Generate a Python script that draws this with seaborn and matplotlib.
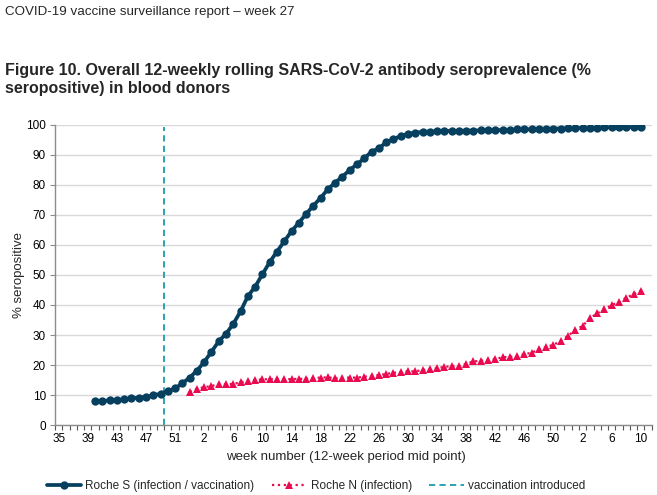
import numpy as np
import pandas as pd
import matplotlib
matplotlib.use("Agg")
import matplotlib.pyplot as plt
from matplotlib.lines import Line2D
import seaborn as sns

nan = np.nan

# Week number of each 12-week period mid point (week 35 2020 .. week 11 2022)
weeks = [35, 36, 37, 38, 39, 40, 41, 42, 43, 44, 45, 46, 47, 48, 49, 50, 51, 52, 53,
         1, 2, 3, 4, 5, 6, 7, 8, 9, 10, 11, 12, 13, 14, 15, 16, 17, 18, 19, 20,
         21, 22, 23, 24, 25, 26, 27, 28, 29, 30, 31, 32, 33, 34, 35, 36, 37, 38,
         39, 40, 41, 42, 43, 44, 45, 46, 47, 48, 49, 50, 51, 52,
         1, 2, 3, 4, 5, 6, 7, 8, 9, 10, 11]

roche_s = [nan, nan, nan, nan, nan,
           8.0, 8.0, 8.2, 8.3, 8.6, 8.9, 9.1, 9.4, 9.9, 10.4, 11.3, 12.2, 13.9, 15.8,
           18.1, 21.0, 24.4, 27.9, 30.4, 33.7, 37.9, 42.9, 46.1, 50.2, 54.3, 57.8,
           61.2, 64.6, 67.4, 70.3, 73.1, 75.7, 78.6, 80.8, 82.8, 85.0, 86.9, 88.9,
           91.1, 92.2, 94.2, 95.3, 96.3, 97.0, 97.4, 97.7, 97.8, 97.9, 98.0, 98.0,
           98.0, 98.1, 98.1, 98.2, 98.2, 98.3, 98.3, 98.4, 98.5, 98.5, 98.6, 98.7,
           98.7, 98.8, 98.8, 98.9, 99.0, 99.0, 99.1, 99.1, 99.2, 99.2, 99.3, 99.3,
           99.3, 99.4, nan]

roche_n = [nan, nan, nan, nan, nan, nan, nan, nan, nan, nan, nan, nan, nan, nan,
           nan, nan, nan, nan,
           11.1, 12.1, 12.6, 13.0, 13.6, 13.6, 13.7, 14.2, 14.7, 15.0, 15.2, 15.3,
           15.3, 15.3, 15.3, 15.4, 15.4, 15.7, 15.8, 15.9, 15.6, 15.8, 15.8, 15.8,
           16.1, 16.4, 16.6, 17.0, 17.4, 17.6, 17.9, 17.9, 18.3, 18.7, 18.9, 19.4,
           19.6, 19.8, 20.4, 21.2, 21.4, 21.7, 22.0, 22.6, 22.7, 23.0, 23.6, 24.1,
           25.2, 26.1, 26.7, 28.1, 29.7, 31.7, 33.0, 35.6, 37.2, 38.6, 40.0, 40.9,
           42.4, 43.6, 44.8, nan]

vaccination_week = 50  # week 50 of 2020
y_ticks = [0, 10, 20, 30, 40, 50, 60, 70, 80, 90, 100]

header = "COVID-19 vaccine surveillance report \u2013 week 27"
title = ("Figure 10. Overall 12-weekly rolling SARS-CoV-2 antibody seroprevalence (%\n"
         "seropositive) in blood donors")
label_s = "Roche S (infection / vaccination)"
label_n = "Roche N (infection)"
label_v = "vaccination introduced"

BLUE = "#073f5f"
RED = "#ea0a50"
TEAL = "#2aa3b1"

sns.set_theme(style="white")
plt.rcParams["font.family"] = ["Liberation Sans", "DejaVu Sans"]

df = pd.DataFrame({"period": np.arange(len(weeks)), "week": weeks,
                   "S": roche_s, "N": roche_n})

fig = plt.figure(figsize=(6.57, 4.95), dpi=100)
ax = fig.add_axes([0.0837, 0.1414, 0.9083, 0.6061])

sns.lineplot(data=df.dropna(subset=["S"]), x="period", y="S", ax=ax, color=BLUE,
             linewidth=2.7, marker="o", markersize=6.0, markeredgewidth=0,
             zorder=4)
sns.lineplot(data=df.dropna(subset=["N"]), x="period", y="N", ax=ax, color=RED,
             linewidth=1.6, linestyle=":", marker="^", markersize=5.6,
             markeredgewidth=0, zorder=3)

vpos = weeks.index(vaccination_week) - 0.5
ax.plot([vpos, vpos], [0, 99.2], color=TEAL, linewidth=1.4, dashes=(3.2, 2.2),
        zorder=2)

ax.set_xlim(-0.5, len(weeks) - 0.5)
ax.set_ylim(0, 100)
ax.set_yticks(y_ticks)
ax.set_yticklabels([str(v) for v in y_ticks])
major = list(range(0, len(weeks), 4))
ax.set_xticks(major)
ax.set_xticklabels([str(weeks[i]) for i in major])
ax.set_xticks(np.arange(-0.5, len(weeks), 1.0), minor=True)

ax.grid(axis="y", color="#d9d9d9", linewidth=1.0, zorder=0)
ax.grid(axis="x", visible=False)
for s in ["top", "right"]:
    ax.spines[s].set_visible(False)
for s in ["left", "bottom"]:
    ax.spines[s].set_color("#8c8c8c")
    ax.spines[s].set_linewidth(1.0)

ax.tick_params(axis="x", which="major", length=0, pad=6, labelsize=8.5, colors="black")
ax.tick_params(axis="x", which="minor", length=3.5, width=0.8, color="#555555",
               direction="out", bottom=True)
ax.tick_params(axis="y", which="major", length=3.5, width=0.8, color="#8c8c8c",
               direction="out", left=True, labelsize=8.5, pad=3, labelcolor="black")

ax.set_xlabel("week number (12-week period mid point)", fontsize=9.5, labelpad=6)
ax.xaxis.set_label_coords(0.487, -0.085)
ax.set_ylabel("% seropositive", fontsize=9.5, labelpad=1)

fig.text(5 / 657, 1 - 12 / 495, header, fontsize=9.6, va="center", ha="left")
fig.text(5 / 657, 1 - 79 / 495, title, fontsize=11.5, fontweight="bold",
         va="center", ha="left", linespacing=1.25)

handles = [
    Line2D([0], [0], color=BLUE, linewidth=2.7, marker="o", markersize=6.0,
           markeredgewidth=0),
    Line2D([0], [0], color=RED, linewidth=1.6, linestyle=":", marker="^",
           markersize=5.6, markeredgewidth=0),
    Line2D([0], [0], color=TEAL, linewidth=1.4, dashes=(3.2, 2.2)),
]
fig.legend(handles, [label_s, label_n, label_v], loc="center",
           bbox_to_anchor=(0.481, 1 - 486 / 495), ncol=3, frameon=False,
           fontsize=8.5, handlelength=2.9, columnspacing=1.5, handletextpad=0.35)

fig.savefig("out.png", dpi=100)
